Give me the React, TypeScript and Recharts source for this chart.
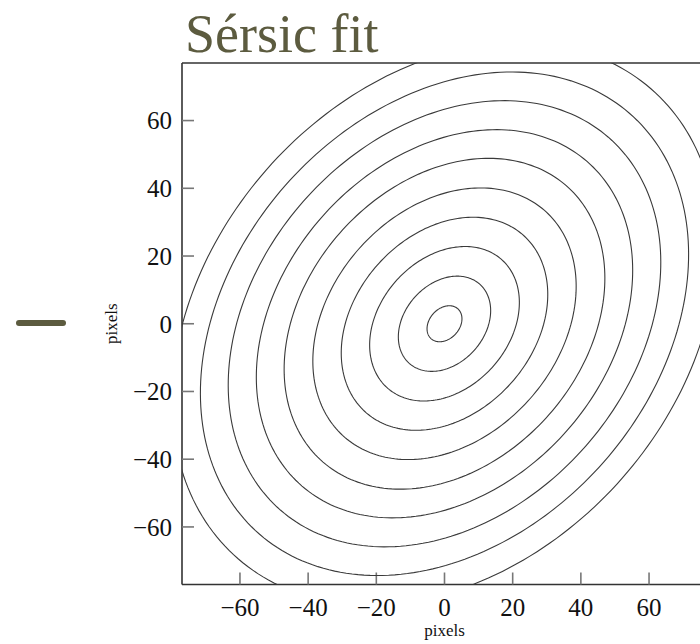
import { ScatterChart, Scatter, XAxis, YAxis, Label } from 'recharts'

// axis ticks (pixels)
const xTicks = [-60, -40, -20, 0, 20, 40, 60]
const yTicks = [-60, -40, -20, 0, 20, 40, 60]
const axisLimit = 77

// Sérsic isophotes: semi-major axis of each contour,
// shared axis ratio and position angle (deg from +x), centred on 0,0
const contourMajor = [5.9, 15.6, 25.3, 34.9, 44.5, 54.2, 63.6, 73.1, 82.5, 92.1]
const axisRatio = 0.752
const positionAngle = 48.9
const centre = { x: 0, y: 0 }

// outline points for each isophote, in data units
const outline = (a: number) => {
  const b = a * axisRatio
  const th = (positionAngle * Math.PI) / 180
  const pts = []
  for (let i = 0; i <= 240; i++) {
    const t = (i / 240) * Math.PI * 2
    pts.push({
      x: centre.x + a * Math.cos(th) * Math.cos(t) - b * Math.sin(th) * Math.sin(t),
      y: centre.y + a * Math.sin(th) * Math.cos(t) + b * Math.cos(th) * Math.sin(t),
    })
  }
  return pts
}

const fmt = (v: number) => (v < 0 ? `\u2212${-v}` : `${v}`)

const font = 'Liberation Serif, Times New Roman, serif'
const tickStyle = { fill: '#111', fontSize: 25, fontFamily: font }
const axisLine = { stroke: '#333', strokeWidth: 1.6 }
const tickLine = { stroke: '#777', strokeWidth: 1.6 }

export default function App() {
  return (
    <div style={{ position: 'fixed', left: 0, top: 0, width: 700, height: 644, overflow: 'hidden', background: '#fff', fontFamily: font }}>
      <div style={{ position: 'absolute', left: 185, top: 7, fontSize: 54, lineHeight: '54px', color: '#5c5b3f', whiteSpace: 'nowrap' }}>
        Sérsic fit
      </div>
      <div style={{ position: 'absolute', left: 16, top: 320, width: 50, height: 6, borderRadius: 3, background: '#5c5b3f' }} />
      <div style={{ position: 'absolute', left: 0, top: 0 }}>
        <ScatterChart width={708} height={644} margin={{ top: 62, right: 0, bottom: 0, left: 40 }}>
          <XAxis
            xAxisId={0}
            type="number"
            dataKey="x"
            domain={[-axisLimit, axisLimit]}
            allowDataOverflow
            ticks={xTicks}
            tickFormatter={fmt}
            tickSize={-12}
            tickMargin={26}
            tick={tickStyle}
            axisLine={axisLine}
            tickLine={tickLine}
            height={59.5}
          >
            <Label value="pixels" position="insideBottom" offset={8} style={{ fontSize: 17, fill: '#111', fontFamily: font }} />
          </XAxis>
          <XAxis
            xAxisId="top"
            orientation="top"
            type="number"
            domain={[-axisLimit, axisLimit]}
            allowDataOverflow
            ticks={xTicks}
            tick={false}
            tickSize={-12}
            axisLine={axisLine}
            tickLine={tickLine}
            height={1}
          />
          <YAxis
            yAxisId={0}
            type="number"
            dataKey="y"
            domain={[-axisLimit, axisLimit]}
            allowDataOverflow
            ticks={yTicks}
            tickFormatter={fmt}
            tickSize={-12}
            tickMargin={22}
            tick={tickStyle}
            axisLine={axisLine}
            tickLine={tickLine}
            width={142}
          >
            <Label value="pixels" angle={-90} position="center" style={{ fontSize: 17, fill: '#111', fontFamily: font }} />
          </YAxis>
          <YAxis
            yAxisId="right"
            orientation="right"
            type="number"
            domain={[-axisLimit, axisLimit]}
            allowDataOverflow
            ticks={yTicks}
            tick={false}
            tickSize={-12}
            axisLine={axisLine}
            tickLine={tickLine}
            width={1}
          />
          {contourMajor.map((a, i) => (
            <Scatter
              key={i}
              xAxisId={0}
              yAxisId={0}
              data={outline(a)}
              line={{ stroke: '#3a3a3a', strokeWidth: 1.1 }}
              lineType="joint"
              shape={() => <g />}
              isAnimationActive={false}
            />
          ))}
        </ScatterChart>
      </div>
    </div>
  )
}
